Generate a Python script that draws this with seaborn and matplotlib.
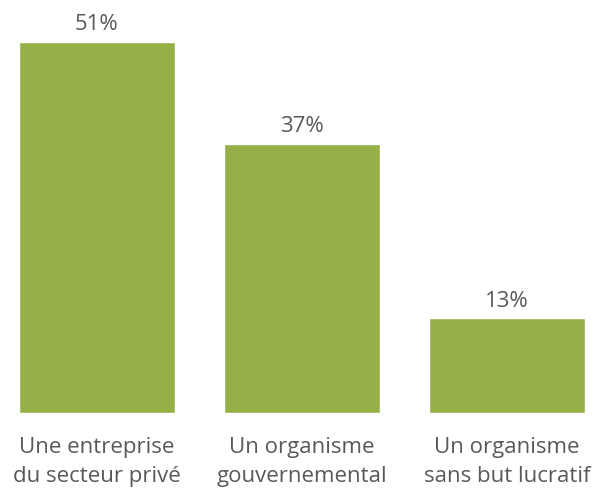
import matplotlib
matplotlib.use("Agg")
import matplotlib.pyplot as plt
import seaborn as sns
import pandas as pd

# chart data
categories = ["Une entreprise\ndu secteur privé", "Un organisme\ngouvernemental", "Un organisme\nsans but lucratif"]
values = [51, 37, 13]
value_labels = ["51%", "37%", "13%"]

sns.set_theme(style="white")
plt.rcParams['font.family'] = ['Open Sans', 'DejaVu Sans']

df = pd.DataFrame({"cat": categories, "val": values})

fig = plt.figure(figsize=(6.02, 4.97), dpi=100)
ax = fig.add_axes([0, 0.169, 1, 0.831])

sns.barplot(data=df, x="cat", y="val", color="#96AF47", saturation=1, width=0.76, ax=ax)

for i, (v, lab) in enumerate(zip(values, value_labels)):
    ax.annotate(lab, (i, v), xytext=(0, 5), textcoords="offset points",
                ha="center", va="bottom", fontsize=16, color="#595959")

ax.set_xlim(-0.473, 2.463)
ax.set_ylim(0, 56.8)
ax.set_yticks([])
ax.set_xlabel("")
ax.set_ylabel("")
ax.tick_params(axis="x", length=0, pad=17, labelsize=16, labelcolor="#595959")
for t in ax.get_xticklabels():
    t.set_linespacing(1.5)
sns.despine(ax=ax, left=True, bottom=True)

fig.savefig("out.png", dpi=100)
